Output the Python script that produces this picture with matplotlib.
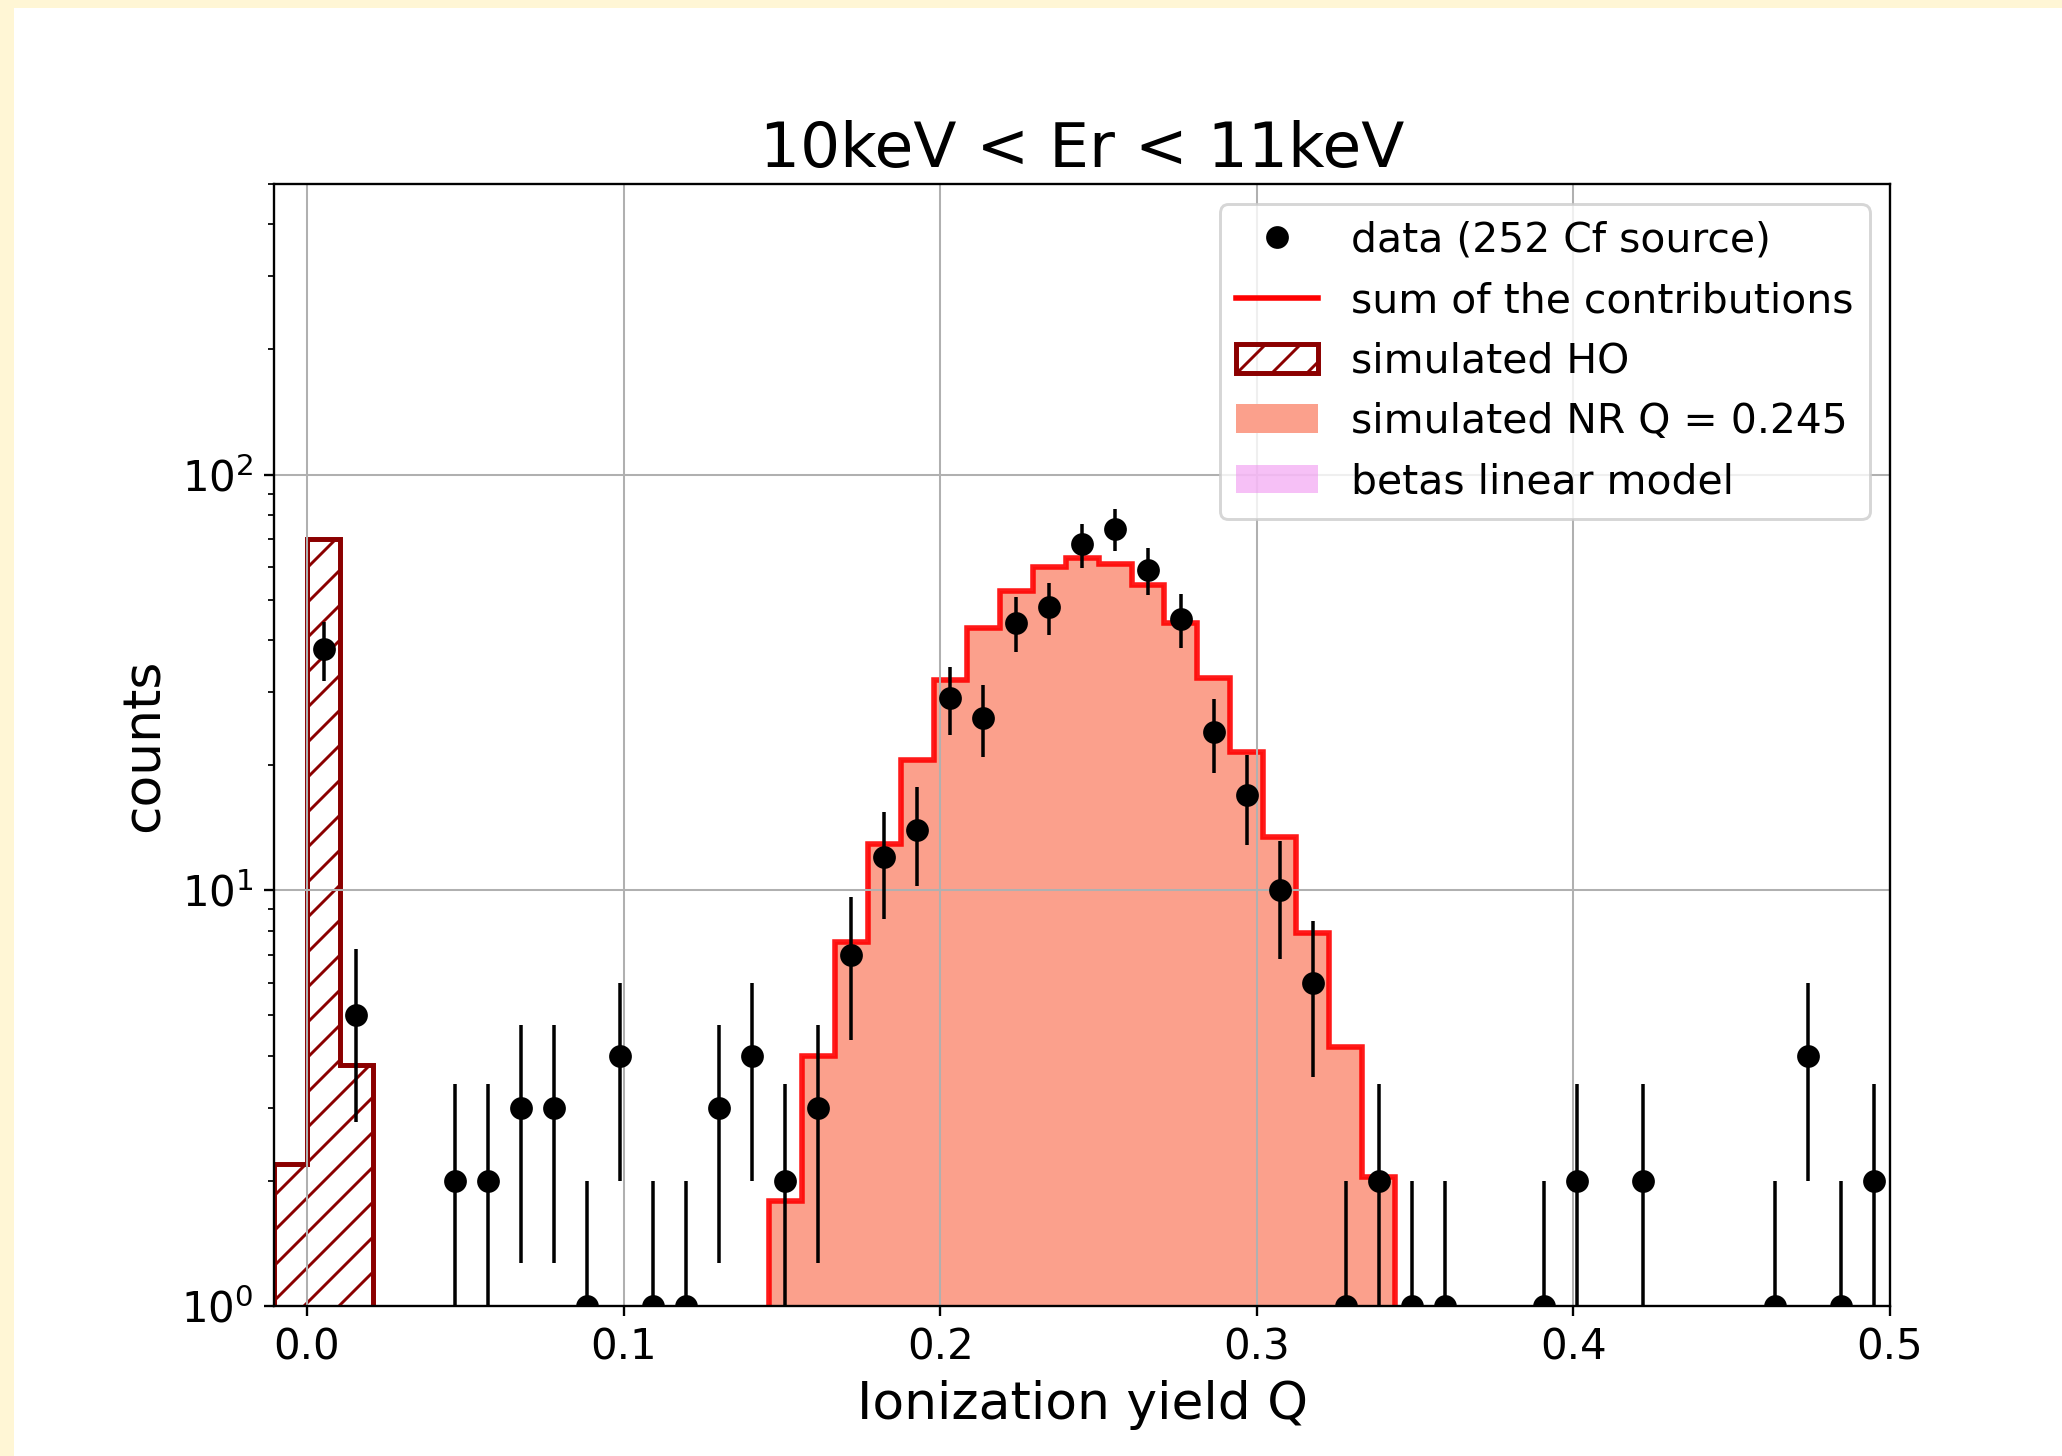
import numpy as np
import matplotlib
matplotlib.use('Agg')
import matplotlib.pyplot as plt
from matplotlib.patches import Patch, Rectangle
from matplotlib.lines import Line2D

# binning in ionization yield Q (first bin is just below 0)
bin_width = 0.5 / 48
edges = np.arange(-1, 49) * bin_width
centers = edges[:-1] + bin_width / 2

# measured counts per bin
data_counts = [0, 38, 5, 0, 0, 2, 2, 3, 3, 1, 4, 1, 1, 3, 4, 2, 3, 7, 12, 14,
               29, 26, 44, 48, 68, 74, 59, 45, 24, 17, 10, 6, 1, 2, 1, 1, 0, 0,
               1, 2, 0, 2, 0, 0, 0, 1, 4, 1, 2]

# simulated heat-only events
ho_counts = [2.2, 70, 3.8, 0, 0, 0, 0, 0, 0, 0, 0, 0, 0, 0, 0, 0, 0, 0, 0, 0,
             0, 0, 0, 0, 0, 0, 0, 0, 0, 0, 0, 0, 0, 0, 0, 0, 0, 0, 0, 0, 0, 0,
             0, 0, 0, 0, 0, 0, 0]

# simulated nuclear recoils, Q = 0.245
nr_counts = [0, 0, 0, 0, 0, 0, 0, 0, 0, 0, 0, 0, 0, 0, 0, 1.79, 4.0, 7.5, 12.9,
             20.6, 32.0, 42.7, 52.6, 60.1, 63.0, 61.1, 54.4, 43.9, 32.5, 21.5,
             13.4, 7.9, 4.2, 2.04, 0, 0, 0, 0, 0, 0, 0, 0, 0, 0, 0, 0, 0, 0, 0]

# betas linear model (nothing visible above 1 count)
betas_counts = [0] * 49

sum_counts = np.array(nr_counts) + np.array(betas_counts)

plt.rcParams['hatch.linewidth'] = 1.0

fig = plt.figure(figsize=(2062 / 210, 1456 / 210), dpi=210, facecolor='#fff6d5')
fig.add_artist(Rectangle((14 / 2062, 0), 1, 1 - 8 / 1456, transform=fig.transFigure,
                         facecolor='white', edgecolor='none', zorder=-1))
ax = fig.add_axes([0.1329, 0.1030, 0.7837, 0.7706])
ax.set_yscale('log')

nr_color = '#fba08c'
ax.stairs(nr_counts, edges, fill=True, color=nr_color, baseline=0)
ax.stairs(betas_counts, edges, fill=True, color='violet', alpha=0.5, baseline=0)
ax.stairs(sum_counts, edges, color='red', lw=1.9, alpha=0.9, baseline=0)
ax.stairs(ho_counts, edges, color='darkred', hatch='//', lw=1.7, baseline=0)

data_counts = np.array(data_counts, dtype=float)
mask = data_counts > 0
ax.errorbar(centers[mask], data_counts[mask], yerr=np.sqrt(data_counts[mask]),
            fmt='o', color='black', ms=6.8, elinewidth=1.2, zorder=5)

ax.set_xlim(edges[0], 0.5)
ax.set_ylim(1, 500)
ax.set_xticks([0.0, 0.1, 0.2, 0.3, 0.4, 0.5])
ax.grid(True, which='major', color='#b0b0b0', lw=0.7)
ax.tick_params(labelsize=14.4)

ax.set_title('10keV < Er < 11keV', fontsize=21.6)
ax.set_xlabel('Ionization yield Q', fontsize=17.8)
ax.set_ylabel('counts', fontsize=17.8)

handles = [
    Line2D([], [], marker='o', ls='none', color='black', ms=6.8),
    Line2D([], [], color='red', lw=1.9),
    Patch(facecolor='none', edgecolor='darkred', hatch='//', lw=1.7),
    Patch(facecolor=nr_color, edgecolor='none'),
    Patch(facecolor='violet', alpha=0.5, edgecolor='none'),
]
labels = ['data (252 Cf source)', 'sum of the contributions', 'simulated HO',
          'simulated NR Q = 0.245', 'betas linear model']
ax.legend(handles, labels, loc='upper right', fontsize=14.0, labelspacing=0.5)

fig.savefig('out.png', dpi=210, facecolor=fig.get_facecolor())
